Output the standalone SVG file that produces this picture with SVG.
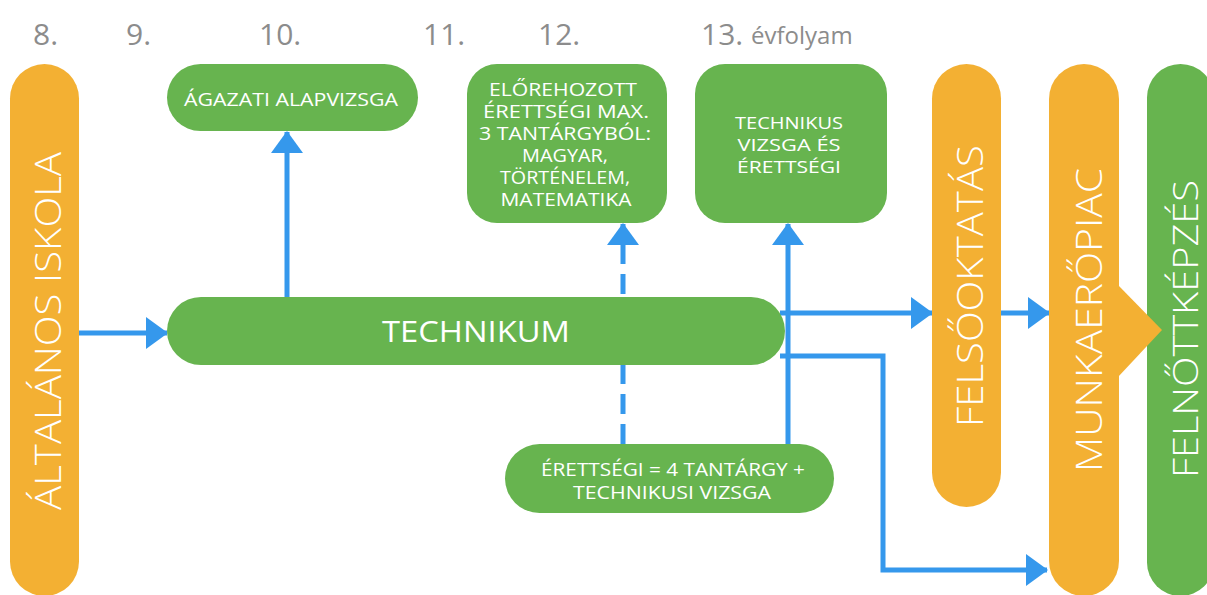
<svg xmlns="http://www.w3.org/2000/svg" width="1207" height="595" viewBox="0 0 1207 595">
  <defs>
    <marker id="ah" markerUnits="userSpaceOnUse" markerWidth="22" markerHeight="32" viewBox="0 0 22 32" refX="21" refY="16" orient="auto">
      <path d="M0,0 L22,16 L0,32 Z" fill="#3598EC"/>
    </marker>
  </defs>
  <style>
    .year { font-family: "Open Sans", "Lato", sans-serif; fill: #8C8C8C; font-size: 30px; }
    .orange { fill: #F3B033; }
    .green { fill: #67B44F; }
    .t { font-family: "Open Sans", "Lato", sans-serif; fill: #FFFFFF; text-anchor: middle; }
    .s { font-size: 18px; }
    .m { font-size: 17px; }
    .big { font-size: 36px; font-weight: 300; }
    .con { fill: none; stroke: #3598EC; stroke-width: 5; }
  </style>
  <rect width="1207" height="595" fill="#FFFFFF"/>

  <g id="years">
    <text class="year" x="33" y="45">8.</text>
    <text class="year" x="126" y="45">9.</text>
    <text class="year" x="259" y="45">10.</text>
    <text class="year" x="423" y="45">11.</text>
    <text class="year" x="538" y="45">12.</text>
    <text class="year" x="701" y="45">13.</text>
    <text class="year" x="751" y="44" style="font-size:24px">évfolyam</text>
  </g>

  <g id="connectors">
    <path class="con" d="M79,333 H167" marker-end="url(#ah)"/>
    <path class="con" d="M287,298 V132" marker-end="url(#ah)"/>
    <path class="con" d="M623,444 V224" stroke-dasharray="20 10" marker-end="url(#ah)"/>
    <path class="con" d="M788,444 V224" marker-end="url(#ah)"/>
    <path class="con" d="M780,313 H932" marker-end="url(#ah)"/>
    <path class="con" d="M1001,313 H1049" marker-end="url(#ah)"/>
    <path class="con" d="M780,356 H883 V570 H1047" marker-end="url(#ah)"/>
  </g>

  <g id="altalanos">
    <rect class="orange" x="10" y="64" width="69" height="532" rx="34.5"/>
    <text class="t big" transform="translate(61,331) rotate(-90)" textLength="358" lengthAdjust="spacingAndGlyphs">ÁLTALÁNOS ISKOLA</text>
  </g>

  <g id="agazati">
    <rect class="green" x="167" y="64" width="251" height="67" rx="33.5"/>
    <text class="t s" x="291" y="106" textLength="214" lengthAdjust="spacingAndGlyphs">ÁGAZATI ALAPVIZSGA</text>
  </g>

  <g id="elorehozott">
    <rect class="green" x="467" y="64" width="200" height="159" rx="30"/>
    <text class="t s" x="563" y="96" textLength="148" lengthAdjust="spacingAndGlyphs">ELŐREHOZOTT</text>
    <text class="t s" x="566" y="118" textLength="166" lengthAdjust="spacingAndGlyphs">ÉRETTSÉGI MAX.</text>
    <text class="t s" x="565" y="140" textLength="172" lengthAdjust="spacingAndGlyphs">3 TANTÁRGYBÓL:</text>
    <text class="t s" x="565" y="162" textLength="86" lengthAdjust="spacingAndGlyphs">MAGYAR,</text>
    <text class="t s" x="565" y="184" textLength="130" lengthAdjust="spacingAndGlyphs">TÖRTÉNELEM,</text>
    <text class="t s" x="566" y="206" textLength="131" lengthAdjust="spacingAndGlyphs">MATEMATIKA</text>
  </g>

  <g id="technikus-vizsga">
    <rect class="green" x="695" y="64" width="192" height="159" rx="30"/>
    <text class="t m" x="789" y="129" textLength="108" lengthAdjust="spacingAndGlyphs">TECHNIKUS</text>
    <text class="t m" x="789" y="151" textLength="103" lengthAdjust="spacingAndGlyphs">VIZSGA ÉS</text>
    <text class="t m" x="789" y="173" textLength="104" lengthAdjust="spacingAndGlyphs">ÉRETTSÉGI</text>
  </g>

  <g id="technikum">
    <rect class="green" x="167" y="297" width="618" height="68" rx="34"/>
    <text class="t" x="476" y="342" style="font-size:29px" textLength="188" lengthAdjust="spacingAndGlyphs">TECHNIKUM</text>
  </g>

  <g id="erettsegi">
    <rect class="green" x="505" y="444" width="329" height="69" rx="34.5"/>
    <text class="t s" x="673" y="476" textLength="264" lengthAdjust="spacingAndGlyphs">ÉRETTSÉGI = 4 TANTÁRGY +</text>
    <text class="t s" x="672" y="499" textLength="198" lengthAdjust="spacingAndGlyphs">TECHNIKUSI VIZSGA</text>
  </g>

  <g id="felsooktatas">
    <rect class="orange" x="932" y="64" width="69" height="443" rx="34.5"/>
    <text class="t big" transform="translate(983,286) rotate(-90)" textLength="282" lengthAdjust="spacingAndGlyphs">FELSŐOKTATÁS</text>
  </g>

  <g id="felnottkepzes">
    <rect class="green" x="1147" y="64" width="67" height="532" rx="33.5"/>
    <text class="t big" transform="translate(1198,329) rotate(-90)" style="font-size:35px" textLength="298" lengthAdjust="spacingAndGlyphs">FELNŐTTKÉPZÉS</text>
  </g>

  <g id="munkaeropiac">
    <rect class="orange" x="1049" y="64" width="70" height="532" rx="35"/>
    <path class="orange" d="M1118,285 L1162,330 L1118,377 Z"/>
    <text class="t big" transform="translate(1102,320) rotate(-90)" textLength="304" lengthAdjust="spacingAndGlyphs">MUNKAERŐPIAC</text>
  </g>
</svg>
